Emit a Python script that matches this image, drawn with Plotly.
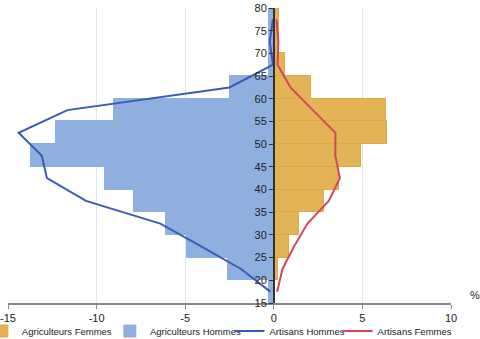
import plotly.graph_objects as go

# Age bins (centres of 5-year groups)
ages = [17.5, 22.5, 27.5, 32.5, 37.5, 42.5, 47.5, 52.5, 57.5, 62.5, 67.5, 72.5, 77.5]

agri_femmes = [0.0, 0.26, 0.85, 1.41, 2.82, 3.7, 4.9, 6.4, 6.35, 2.1, 0.62, 0.28, 0.28]
agri_hommes = [-0.25, -2.6, -4.9, -6.1, -7.9, -9.5, -13.7, -12.3, -9.0, -2.5, -0.25, -0.25, -0.25]
arti_hommes = [-0.2, -1.85, -4.1, -6.4, -10.6, -12.8, -13.1, -14.4, -11.65, -2.5, -0.04, -0.23, -0.05]
arti_femmes = [0.19, 0.49, 1.15, 1.9, 3.1, 3.73, 3.47, 3.48, 2.2, 0.94, 0.21, 0.26, 0.15]

x_ticks = [-15, -10, -5, 0, 5, 10]
x_tick_labels = ["-15", "-10", "-5", "0", "5", "10"]

FONT = "Liberation Sans, Arial, sans-serif"

fig = go.Figure()
fig.add_trace(go.Bar(
    y=ages, x=agri_femmes, orientation="h", width=5,
    name="Agriculteurs Femmes", legend="legend",
    marker=dict(color="#E3B455", line=dict(color="#E0A941", width=1)),
))
fig.add_trace(go.Bar(
    y=ages, x=agri_hommes, orientation="h", width=5,
    name="Agriculteurs Hommes", legend="legend2",
    marker=dict(color="#8FAFDF", line=dict(color="#8FAFDF", width=1)),
))
fig.add_trace(go.Scatter(
    y=ages, x=arti_hommes, mode="lines", name="Artisans Hommes", legend="legend3",
    line=dict(color="#3A5CB8", width=2),
))
fig.add_trace(go.Scatter(
    y=ages, x=arti_femmes, mode="lines", name="Artisans Femmes", legend="legend4",
    line=dict(color="#D4475A", width=2),
))

def leg(x):
    return dict(
        orientation="h", x=x, xanchor="left", y=-0.046, yanchor="top",
        font=dict(family=FONT, size=9.5, color="#222222"),
        itemwidth=30, bgcolor="rgba(0,0,0,0)",
    )

fig.update_layout(
    width=480, height=339,
    margin=dict(l=8, r=29, t=8, b=36, autoexpand=False),
    paper_bgcolor="white", plot_bgcolor="white",
    barmode="overlay",
    bargap=0,
    font=dict(family=FONT, size=11, color="#222222"),
    showlegend=True,
    legend=leg(-0.059),
    legend2=leg(0.230),
    legend3=leg(0.500),
    legend4=leg(0.744),
    xaxis=dict(
        range=[-15, 10], tickvals=x_ticks, ticktext=x_tick_labels,
        showgrid=True, gridcolor="#DCE6F4", gridwidth=1,
        zeroline=False,
        showline=True, linecolor="#888888", linewidth=2,
        ticks="outside", ticklen=4, tickcolor="#888888",
        tickfont=dict(family=FONT, size=11, color="#222222"),
        fixedrange=True,
    ),
    yaxis=dict(
        range=[15, 80], dtick=5, tick0=15,
        anchor="free", position=0.6, side="left",
        showgrid=False, zeroline=False,
        showline=True, linecolor="#333333", linewidth=1.5,
        ticks="outside", ticklen=4, tickcolor="#333333",
        tickfont=dict(family=FONT, size=11, color="#222222"),
        fixedrange=True,
    ),
    annotations=[dict(
        text="%", xref="paper", yref="paper", x=1.055, y=0.0, xanchor="center",
        yanchor="bottom", showarrow=False,
        font=dict(family=FONT, size=11, color="#222222"),
    )],
)

fig.write_html("out.html")
